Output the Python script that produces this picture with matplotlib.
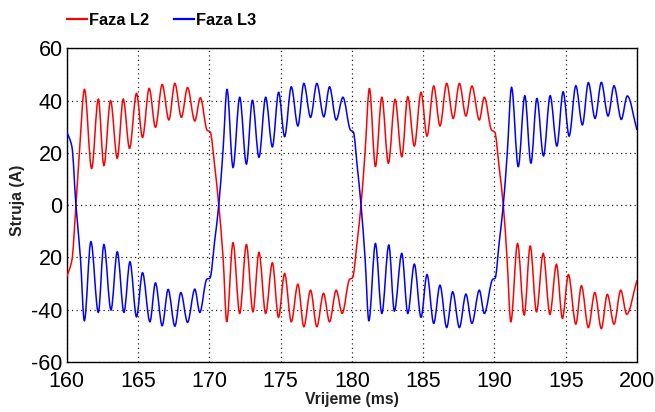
import numpy as np
import matplotlib
matplotlib.use("Agg")
import matplotlib.pyplot as plt
from matplotlib import font_manager
from matplotlib.lines import Line2D
from matplotlib.patches import PathPatch
from matplotlib.path import Path

# Phase currents: extrema of the ripple plus a few
# points along each commutation (time in ms, current in A)
L2_T = [
    160.00, 160.36, 160.64, 160.88,
    161.24, 161.74, 162.21, 162.60, 163.07, 163.54, 163.96, 164.40, 164.89, 165.31,
    165.78, 166.22, 166.69, 167.16, 167.58, 168.04, 168.47, 168.98, 169.37,
    169.84, 170.06, 170.38, 170.66, 170.96,
    171.22, 171.66, 172.13, 172.60, 173.06, 173.48, 173.95, 174.42, 174.85, 175.28,
    175.75, 176.21, 176.63, 177.10, 177.54, 178.01, 178.43, 178.90, 179.32,
    179.83, 180.05, 180.36, 180.64, 180.92,
    181.23, 181.65, 182.10, 182.56, 183.03, 183.50, 183.92, 184.38, 184.85, 185.27,
    185.74, 186.18, 186.65, 187.11, 187.54, 188.00, 188.42, 188.94, 189.29,
    189.80, 190.02, 190.33, 190.62, 190.88,
    191.15, 191.62, 192.09, 192.51, 192.95, 193.42, 193.89, 194.35, 194.77, 195.19,
    195.71, 196.10, 196.59, 197.04, 197.50, 197.92, 198.39, 198.86, 199.28,
    200.00,
]
L2_V = [
    -27.5, -21.0, 0.0, 19.8,
    44.3, 14.0, 40.6, 15.1, 40.0, 17.9, 40.6, 21.7, 42.8, 25.9,
    44.7, 29.8, 46.2, 32.6, 46.6, 33.6, 45.0, 32.2, 41.1,
    28.7, 28.0, 14.7, 0.0, -19.8,
    -44.7, -14.4, -41.5, -15.1, -40.9, -18.1, -41.5, -22.1, -43.0, -26.2,
    -44.7, -30.3, -46.6, -32.6, -46.6, -33.8, -44.7, -32.6, -41.5,
    -28.5, -27.8, -14.5, 0.0, 20.0,
    44.7, 14.7, 41.3, 16.0, 40.5, 18.5, 41.5, 22.6, 43.2, 26.4,
    45.6, 30.3, 46.6, 33.2, 46.6, 34.1, 45.6, 32.6, 41.3,
    28.7, 28.0, 14.5, 0.0, -20.0,
    -44.7, -14.7, -42.1, -15.6, -40.9, -18.5, -41.9, -22.7, -43.4, -26.6,
    -45.6, -30.9, -46.9, -33.5, -47.3, -34.2, -45.6, -32.6, -41.8,
    -28.7,
]
L3_T = [
    160.00, 160.36, 160.64, 160.95,
    161.23, 161.69, 162.21, 162.60, 163.10, 163.54, 164.01, 164.43, 164.89, 165.31,
    165.83, 166.22, 166.69, 167.11, 167.58, 168.00, 168.47, 168.98, 169.33,
    169.82, 170.04, 170.38, 170.66, 170.96,
    171.24, 171.66, 172.13, 172.60, 173.02, 173.48, 173.95, 174.42, 174.86, 175.28,
    175.75, 176.21, 176.63, 177.10, 177.54, 178.03, 178.43, 178.90, 179.37,
    179.90, 180.10, 180.38, 180.64, 180.92,
    181.19, 181.65, 182.10, 182.59, 182.98, 183.50, 183.92, 184.38, 184.85, 185.27,
    185.74, 186.18, 186.65, 187.07, 187.54, 188.00, 188.42, 188.94, 189.29,
    189.87, 190.05, 190.33, 190.62, 190.90,
    191.20, 191.67, 192.13, 192.56, 192.98, 193.44, 193.91, 194.38, 194.82, 195.24,
    195.71, 196.17, 196.59, 197.06, 197.50, 197.97, 198.39, 198.90, 199.32,
    200.00,
]
L3_V = [
    28.1, 22.3, 0.0, -19.8,
    -44.3, -14.0, -41.1, -15.1, -40.2, -17.9, -41.1, -21.7, -42.8, -25.9,
    -44.7, -29.8, -46.2, -32.3, -46.4, -33.5, -44.9, -32.2, -41.1,
    -28.4, -28.0, -13.4, 0.0, 21.0,
    44.4, 14.4, 41.3, 15.7, 40.2, 18.3, 41.3, 22.3, 43.2, 26.2,
    45.3, 30.3, 46.6, 33.6, 46.6, 33.8, 45.3, 32.6, 41.3,
    28.7, 28.0, 14.5, 0.0, -20.0,
    -44.3, -14.7, -41.5, -15.3, -40.6, -18.5, -41.5, -22.6, -43.0, -26.6,
    -45.3, -30.7, -46.9, -33.2, -46.9, -34.1, -45.3, -32.6, -41.5,
    -28.5, -28.0, -14.5, 0.0, 20.0,
    45.1, 14.7, 41.9, 16.0, 40.9, 18.8, 41.9, 22.6, 43.4, 26.4,
    45.7, 30.7, 46.9, 33.2, 47.0, 34.1, 45.7, 32.8, 41.8,
    28.7,
]

X_TICKS = [160, 165, 170, 175, 180, 185, 190, 195, 200]
Y_TICKS = [-60, -40, -20, 0, 20, 40, 60]
Y_TICK_LABELS = ["-60", "-40", "20", "0", "20", "40", "60"]  # as printed in the original

SERIES = [("Faza L2", L2_T, L2_V, "#ff0000"),
          ("Faza L3", L3_T, L3_V, "#0000ff")]


def smooth_path(t, v):
    """Bezier path through the read points (monotone cubic, flat at extrema)."""
    t = np.asarray(t, float)
    v = np.asarray(v, float)
    d = np.diff(v) / np.diff(t)
    m = np.zeros_like(v)
    m[0], m[-1] = d[0], d[-1]
    for i in range(1, len(v) - 1):
        if d[i - 1] * d[i] > 0:
            m[i] = 2.0 / (1.0 / d[i - 1] + 1.0 / d[i])
    verts = [(t[0], v[0])]
    codes = [Path.MOVETO]
    for i in range(len(v) - 1):
        h = t[i + 1] - t[i]
        verts += [(t[i] + h / 3, v[i] + m[i] * h / 3),
                  (t[i + 1] - h / 3, v[i + 1] - m[i + 1] * h / 3),
                  (t[i + 1], v[i + 1])]
        codes += [Path.CURVE4] * 3
    return Path(verts, codes)


available = {f.name for f in font_manager.fontManager.ttflist}
narrow = "Liberation Sans Narrow" in available
TICK_FONT = ["Liberation Sans Narrow", "Liberation Sans"] if narrow else ["Liberation Sans"]
TICK_SIZE = 18.5 if narrow else 15.5
LABEL_SIZE = 13.5 if narrow else 11.3

fig = plt.figure(figsize=(6.55, 4.12), dpi=100)
ax = fig.add_axes([0.102, 0.122, 0.8705, 0.7605])

for name, t, v, color in SERIES:
    ax.add_patch(PathPatch(smooth_path(t, v), facecolor="none",
                           edgecolor=color, linewidth=1.1, zorder=3))

ax.set_xlim(160, 200)
ax.set_ylim(-60, 60)
ax.set_xticks(X_TICKS)
ax.set_yticks(Y_TICKS)
ax.set_xticklabels([str(x) for x in X_TICKS], family=TICK_FONT, fontsize=TICK_SIZE)
ax.set_yticklabels(Y_TICK_LABELS, family=TICK_FONT, fontsize=TICK_SIZE)
ax.tick_params(direction="in", length=0)
ax.tick_params(axis="x", pad=6.5)
ax.tick_params(axis="y", pad=3)

ax.grid(True, color="black", linewidth=0.9, linestyle=(0, (1, 2.6)), alpha=0.85)
for s in ax.spines.values():
    s.set_linewidth(1.0)
    s.set_color("black")

ax.set_xlabel("Vrijeme (ms)", family=TICK_FONT, fontsize=LABEL_SIZE,
              fontweight="bold", color="#222222", labelpad=0)
ax.set_ylabel("Struja (A)", family=TICK_FONT, fontsize=LABEL_SIZE,
              fontweight="bold", color="#222222")
ax.yaxis.set_label_coords(-0.074, 0.515)

handles = [Line2D([], [], color=c, linewidth=1.6, label=n) for n, _, _, c in SERIES]
fig.legend(handles=handles, loc="center left", bbox_to_anchor=(0.103, 0.951),
           ncol=2, frameon=False, borderpad=0, borderaxespad=0,
           handlelength=1.2, handletextpad=0.1, columnspacing=1.55,
           prop={"family": "Liberation Sans", "weight": "bold", "size": 11.8})

fig.savefig("out.png", dpi=100)
